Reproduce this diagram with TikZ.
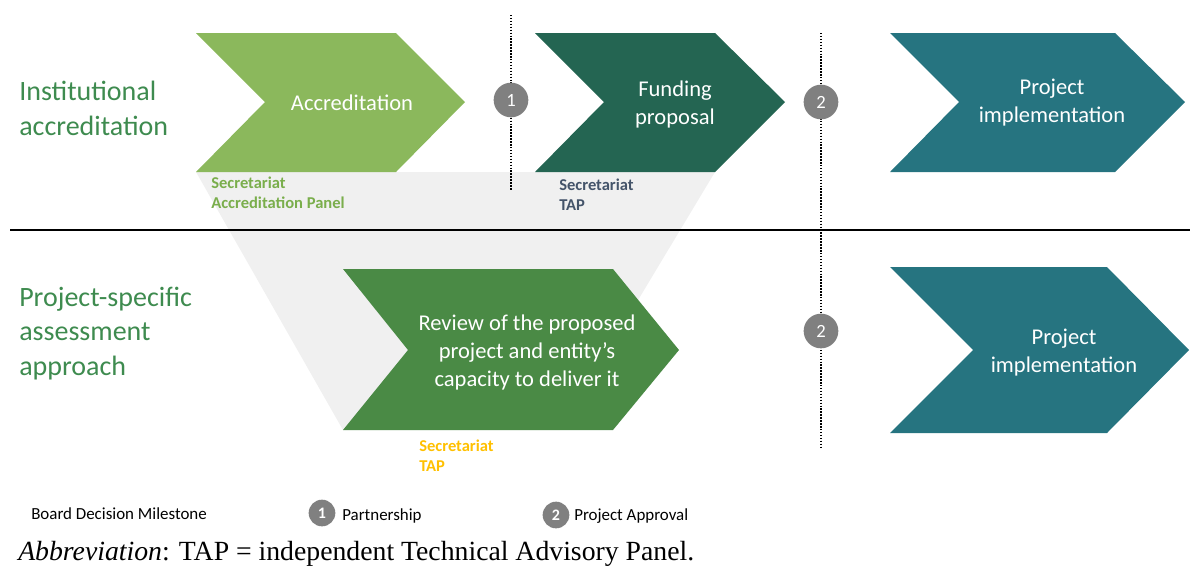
\documentclass[tikz,border=0pt]{standalone}
\usepackage{fontspec}
\setmainfont{Carlito}
\newfontfamily\captionserif{Liberation Serif}
\definecolor{accgreen}{HTML}{8BB85C}
\definecolor{fundgreen}{HTML}{246552}
\definecolor{implteal}{HTML}{267480}
\definecolor{reviewgreen}{HTML}{4A8A45}
\definecolor{rowgreen}{HTML}{3E8B4F}
\definecolor{panelgreen}{HTML}{7AAE4C}
\definecolor{slate}{HTML}{44546A}
\definecolor{gold}{HTML}{FFC000}
\definecolor{funnel}{HTML}{F0F0F0}
\definecolor{milestone}{HTML}{808080}
\begin{document}
\begin{tikzpicture}[x=0.75pt,y=-0.75pt,
  rowlabel/.style={anchor=base west,align=left,text=rowgreen,font=\fontsize{21}{25.8}\selectfont,inner sep=0pt},
  stagetext/.style={align=center,text=white,font=\fontsize{16.9}{21}\selectfont,inner sep=0pt},
  actor/.style={anchor=base west,align=left,font=\fontsize{12.4}{14.8}\selectfont\bfseries,inner sep=0pt},
  milestonedot/.style={circle,fill=milestone,text=white,minimum size=26pt,inner sep=0pt,font=\fontsize{14}{14}\selectfont},
  legenddot/.style={circle,fill=milestone,text=white,minimum size=20pt,inner sep=0pt,font=\fontsize{12}{12}\selectfont\bfseries},
  legendtext/.style={anchor=west,inner sep=0pt,font=\fontsize{12.7}{15}\selectfont},
  dotline/.style={line width=1.3pt,dash pattern=on 1.1pt off 1.1pt}]
\useasboundingbox (0,0) rectangle (1190,565);

% funnel between the two rows
\fill[funnel] (196,172) -- (715,172) -- (560,430) -- (343,430) -- cycle;

% milestone guide lines
\draw[dotline] (511,15) -- (511,190);
\draw[dotline] (821,33) -- (821,448);

% row separator
\draw[line width=0.9pt] (10,230) -- (1190,230);

% top row chevrons
\fill[accgreen] (196,33) -- (396,33) -- (465,102) -- (396,172) -- (196,172) -- (265,102) -- cycle;
\fill[fundgreen] (535,33) -- (715,33) -- (785,102) -- (715,172) -- (535,172) -- (604,102) -- cycle;
\fill[implteal] (890,33) -- (1115,33) -- (1185,102) -- (1115,172) -- (890,172) -- (959,102) -- cycle;

% bottom row chevrons
\fill[reviewgreen] (343,269) -- (613,269) -- (679,350) -- (613,430) -- (343,430) -- (408,350) -- cycle;
\fill[implteal] (890,267) -- (1107,267) -- (1189,350) -- (1107,433) -- (890,433) -- (973,350) -- cycle;

% stage labels
\node[stagetext] (accr) at (352,103) {Accreditation};
\node[stagetext] (fund) at (675,104) {Funding\\proposal};
\node[stagetext] (impltop) at (1052,103) {Project\\implementation};
\node[stagetext] (review) at (527,352) {Review of the proposed\\project and entity’s\\capacity to deliver it};
\node[stagetext] (implbot) at (1064,353) {Project\\implementation};

% row labels (anchored on the baseline of the last line)
\node[rowlabel] (rowinst) at (19,135) {Institutional\\accreditation};
\node[rowlabel] (rowproj) at (19,375) {Project-specific\\assessment\\approach};

% responsible bodies
\node[actor,text=panelgreen] (actA) at (211,208) {Secretariat\\Accreditation Panel};
\node[actor,text=slate] (actF) at (559,210) {Secretariat\\TAP};
\node[actor,text=gold] (actR) at (419,471) {Secretariat\\TAP};

% board decision milestones
\node[milestonedot] (m1) at (511,100) {1};
\node[milestonedot] (m2a) at (821,102) {2};
\node[milestonedot] (m2b) at (821,331) {2};

% legend
\node[legendtext] (legtitle) at (31,514) {Board Decision Milestone};
\node[legenddot] (leg1) at (322,513) {1};
\node[legendtext] (leg1t) at (342,516) {Partnership};
\node[legenddot] (leg2) at (556,515) {2};
\node[legendtext] (leg2t) at (574,516) {Project Approval};

% abbreviation note
\node[anchor=base west,inner sep=0pt,font=\captionserif\fontsize{20.8}{24}\selectfont] (abbr) at (18,560) {\textit{Abbreviation}: TAP = independent Technical Advisory Panel.};
\end{tikzpicture}
\end{document}
